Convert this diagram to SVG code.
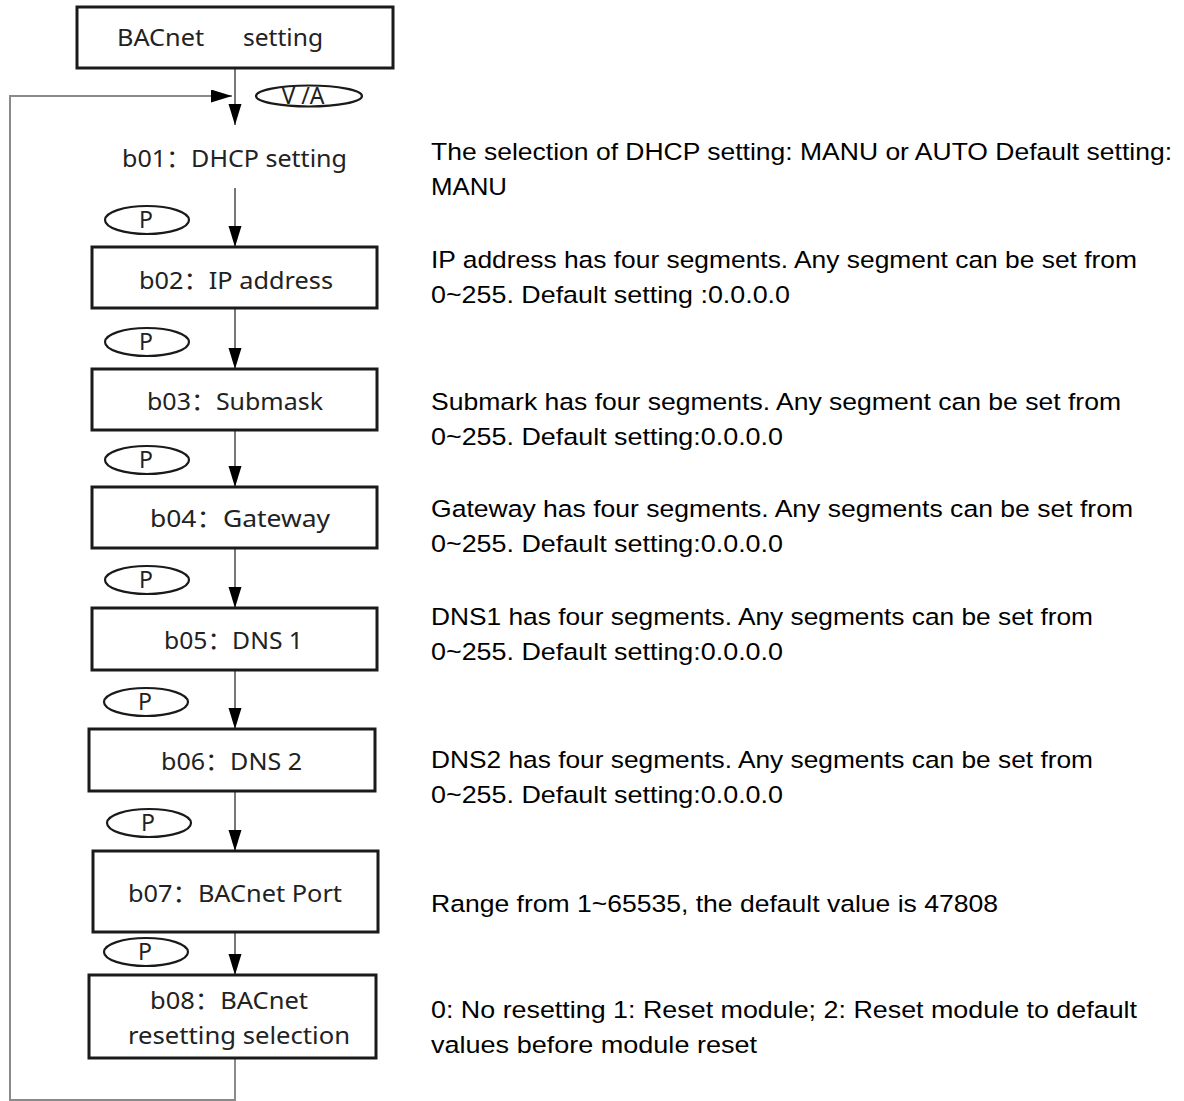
<svg xmlns="http://www.w3.org/2000/svg" width="1184" height="1101" viewBox="0 0 1184 1101">
<style>
.box{fill:#fff;stroke:#1a1a1a;stroke-width:3}
.oval{fill:none;stroke:#1a1a1a;stroke-width:2.2}
.lbl{font-family:"Noto Sans","Noto Sans CJK SC",sans-serif;font-size:24px;fill:#222}
.key{font-family:"Noto Sans",sans-serif;font-size:23px;fill:#222;text-anchor:middle}
.desc{font-family:"Liberation Sans",Arial,sans-serif;font-size:24.5px;fill:#000}
.con{fill:none;stroke:#555;stroke-width:1.6}
.loop{fill:none;stroke:#8a8a8a;stroke-width:2}
</style>
<defs>
<marker id="ah" markerUnits="userSpaceOnUse" markerWidth="22" markerHeight="14" refX="21" refY="6.5" orient="auto">
<path d="M0,0 L21,6.5 L0,13 z" fill="#000"/>
</marker>
</defs>
<rect width="1184" height="1101" fill="#fff"/>
<g id="connectors">
<path class="con" d="M235,68 V125" marker-end="url(#ah)"/>
<path class="con" d="M235,188 V247" marker-end="url(#ah)"/>
<path class="con" d="M235,308 V369" marker-end="url(#ah)"/>
<path class="con" d="M235,430 V487" marker-end="url(#ah)"/>
<path class="con" d="M235,548 V608" marker-end="url(#ah)"/>
<path class="con" d="M235,670 V729" marker-end="url(#ah)"/>
<path class="con" d="M235,791 V851" marker-end="url(#ah)"/>
<path class="con" d="M235,932 V975" marker-end="url(#ah)"/>
<path class="loop" d="M235,1058 V1100 H10 V96 H232" marker-end="url(#ah)"/>
</g>
<g id="keys">
<g id="key-va"><ellipse class="oval" cx="309" cy="96" rx="53" ry="10.5"/><text class="key" x="303" y="104" font-size="21">V /A</text></g>
<g id="key-p1"><ellipse class="oval" cx="147" cy="220" rx="42" ry="14"/><text class="key" x="146" y="228">P</text></g>
<g id="key-p2"><ellipse class="oval" cx="147" cy="342" rx="42" ry="14"/><text class="key" x="146" y="350">P</text></g>
<g id="key-p3"><ellipse class="oval" cx="147" cy="460" rx="42" ry="14"/><text class="key" x="146" y="468">P</text></g>
<g id="key-p4"><ellipse class="oval" cx="147" cy="580" rx="42" ry="14"/><text class="key" x="146" y="588">P</text></g>
<g id="key-p5"><ellipse class="oval" cx="146" cy="702" rx="42" ry="14"/><text class="key" x="145" y="710">P</text></g>
<g id="key-p6"><ellipse class="oval" cx="149" cy="823" rx="42" ry="14"/><text class="key" x="148" y="831">P</text></g>
<g id="key-p7"><ellipse class="oval" cx="146" cy="952" rx="42" ry="14"/><text class="key" x="145" y="960">P</text></g>
</g>
<g id="n-top"><rect class="box" x="77" y="7" width="316" height="61"/><text class="lbl"><tspan x="117" y="46" textLength="87" lengthAdjust="spacingAndGlyphs">BACnet</tspan><tspan x="243" y="46" textLength="80" lengthAdjust="spacingAndGlyphs">setting</tspan></text></g>
<g id="n-b01"><text class="lbl" x="122" y="167" textLength="225" lengthAdjust="spacingAndGlyphs">b01：DHCP setting</text></g>
<g id="n-b02"><rect class="box" x="92" y="247" width="285" height="61"/><text class="lbl" x="139" y="289" textLength="194" lengthAdjust="spacingAndGlyphs">b02：IP address</text></g>
<g id="n-b03"><rect class="box" x="92" y="369" width="285" height="61"/><text class="lbl" x="147" y="410" textLength="176" lengthAdjust="spacingAndGlyphs">b03：Submask</text></g>
<g id="n-b04"><rect class="box" x="92" y="487" width="285" height="61"/><text class="lbl" x="150" y="527" textLength="180" lengthAdjust="spacingAndGlyphs">b04：Gateway</text></g>
<g id="n-b05"><rect class="box" x="92" y="608" width="285" height="62"/><text class="lbl" x="164" y="649" textLength="139" lengthAdjust="spacingAndGlyphs">b05：DNS 1</text></g>
<g id="n-b06"><rect class="box" x="89" y="729" width="286" height="62"/><text class="lbl" x="161" y="770" textLength="141" lengthAdjust="spacingAndGlyphs">b06：DNS 2</text></g>
<g id="n-b07"><rect class="box" x="93" y="851" width="285" height="81"/><text class="lbl" x="128" y="902" textLength="214" lengthAdjust="spacingAndGlyphs">b07：BACnet Port</text></g>
<g id="n-b08"><rect class="box" x="89" y="975" width="287" height="83"/><text class="lbl"><tspan x="150" y="1009" textLength="158" lengthAdjust="spacingAndGlyphs">b08：BACnet</tspan><tspan x="128" y="1044" textLength="222" lengthAdjust="spacingAndGlyphs">resetting selection</tspan></text></g>
<g id="descriptions">
<text class="desc" x="431" y="160" textLength="741" lengthAdjust="spacingAndGlyphs">The selection of DHCP setting: MANU or AUTO Default setting:</text>
<text class="desc" x="431" y="195" textLength="76" lengthAdjust="spacingAndGlyphs">MANU</text>
<text class="desc" x="431" y="268" textLength="706" lengthAdjust="spacingAndGlyphs">IP address has four segments. Any segment can be set from</text>
<text class="desc" x="431" y="303" textLength="359" lengthAdjust="spacingAndGlyphs">0~255. Default setting :0.0.0.0</text>
<text class="desc" x="431" y="410" textLength="690" lengthAdjust="spacingAndGlyphs">Submark has four segments. Any segment can be set from</text>
<text class="desc" x="431" y="445" textLength="352" lengthAdjust="spacingAndGlyphs">0~255. Default setting:0.0.0.0</text>
<text class="desc" x="431" y="517" textLength="702" lengthAdjust="spacingAndGlyphs">Gateway has four segments. Any segments can be set from</text>
<text class="desc" x="431" y="552" textLength="352" lengthAdjust="spacingAndGlyphs">0~255. Default setting:0.0.0.0</text>
<text class="desc" x="431" y="625" textLength="662" lengthAdjust="spacingAndGlyphs">DNS1 has four segments. Any segments can be set from</text>
<text class="desc" x="431" y="660" textLength="352" lengthAdjust="spacingAndGlyphs">0~255. Default setting:0.0.0.0</text>
<text class="desc" x="431" y="768" textLength="662" lengthAdjust="spacingAndGlyphs">DNS2 has four segments. Any segments can be set from</text>
<text class="desc" x="431" y="803" textLength="352" lengthAdjust="spacingAndGlyphs">0~255. Default setting:0.0.0.0</text>
<text class="desc" x="431" y="912" textLength="567" lengthAdjust="spacingAndGlyphs">Range from 1~65535, the default value is 47808</text>
<text class="desc" x="431" y="1018" textLength="706" lengthAdjust="spacingAndGlyphs">0: No resetting 1: Reset module; 2: Reset module to default</text>
<text class="desc" x="431" y="1053" textLength="326" lengthAdjust="spacingAndGlyphs">values before module reset</text>
</g>
</svg>
